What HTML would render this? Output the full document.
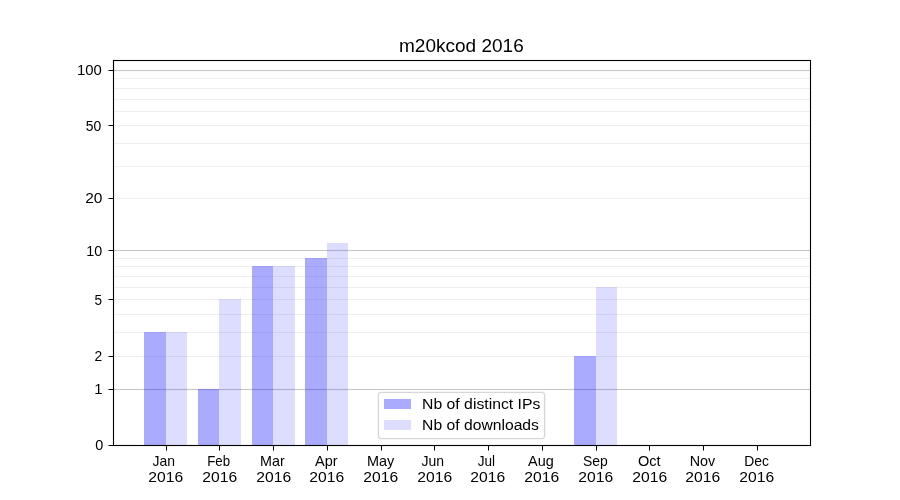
<!DOCTYPE html>
<html><head><meta charset="utf-8"><title>m20kcod 2016</title><style>
html,body{margin:0;padding:0;background:#fff;width:900px;height:500px;overflow:hidden}
svg{display:block;will-change:transform}
text{font-family:"Liberation Sans", sans-serif;fill:#000}
</style></head><body>
<svg width="900" height="500" viewBox="0 0 900 500">
<rect x="0" y="0" width="900" height="500" fill="#fff"/>
<g shape-rendering="crispEdges">
<rect x="113" y="78" width="698" height="1" fill="#efefef"/>
<rect x="113" y="88" width="698" height="1" fill="#efefef"/>
<rect x="113" y="99" width="698" height="1" fill="#efefef"/>
<rect x="113" y="111" width="698" height="1" fill="#efefef"/>
<rect x="113" y="125" width="698" height="1" fill="#efefef"/>
<rect x="113" y="143" width="698" height="1" fill="#efefef"/>
<rect x="113" y="166" width="698" height="1" fill="#efefef"/>
<rect x="113" y="198" width="698" height="1" fill="#efefef"/>
<rect x="113" y="258" width="698" height="1" fill="#efefef"/>
<rect x="113" y="266" width="698" height="1" fill="#efefef"/>
<rect x="113" y="276" width="698" height="1" fill="#efefef"/>
<rect x="113" y="287" width="698" height="1" fill="#efefef"/>
<rect x="113" y="299" width="698" height="1" fill="#efefef"/>
<rect x="113" y="314" width="698" height="1" fill="#efefef"/>
<rect x="113" y="332" width="698" height="1" fill="#efefef"/>
<rect x="113" y="356" width="698" height="1" fill="#efefef"/>
<rect x="113" y="69" width="698" height="3" fill="#fbfbfb"/>
<rect x="113" y="70" width="698" height="1" fill="#c8c8c8"/>
<rect x="113" y="249" width="698" height="3" fill="#fbfbfb"/>
<rect x="113" y="250" width="698" height="1" fill="#c8c8c8"/>
<rect x="113" y="388" width="698" height="3" fill="#fbfbfb"/>
<rect x="113" y="389" width="698" height="1" fill="#c8c8c8"/>
<rect x="144" y="332" width="22" height="113" fill="#0000ff" fill-opacity="0.333"/>
<rect x="198" y="389" width="21" height="56" fill="#0000ff" fill-opacity="0.333"/>
<rect x="252" y="266" width="21" height="179" fill="#0000ff" fill-opacity="0.333"/>
<rect x="305" y="258" width="22" height="187" fill="#0000ff" fill-opacity="0.333"/>
<rect x="574" y="356" width="22" height="89" fill="#0000ff" fill-opacity="0.333"/>
<rect x="166" y="332" width="21" height="113" fill="#0000ff" fill-opacity="0.133"/>
<rect x="219" y="299" width="22" height="146" fill="#0000ff" fill-opacity="0.133"/>
<rect x="273" y="266" width="22" height="179" fill="#0000ff" fill-opacity="0.133"/>
<rect x="327" y="243" width="21" height="202" fill="#0000ff" fill-opacity="0.133"/>
<rect x="596" y="287" width="21" height="158" fill="#0000ff" fill-opacity="0.133"/>
<rect x="112" y="59" width="700" height="1" fill="#000" fill-opacity="0.055"/>
<rect x="112" y="61" width="697" height="1" fill="#000" fill-opacity="0.055"/>
<rect x="114" y="444" width="695" height="1" fill="#000" fill-opacity="0.055"/>
<rect x="112" y="446" width="700" height="1" fill="#000" fill-opacity="0.055"/>
<rect x="112" y="60" width="1" height="386" fill="#000" fill-opacity="0.055"/>
<rect x="114" y="62" width="1" height="382" fill="#000" fill-opacity="0.055"/>
<rect x="809" y="62" width="1" height="382" fill="#000" fill-opacity="0.055"/>
<rect x="811" y="60" width="1" height="386" fill="#000" fill-opacity="0.055"/>
<rect x="113" y="60" width="698" height="1" fill="#000"/>
<rect x="113" y="445" width="698" height="1" fill="#000"/>
<rect x="113" y="60" width="1" height="386" fill="#000"/>
<rect x="810" y="60" width="1" height="386" fill="#000"/>
<rect x="108" y="70" width="1" height="1" fill="#7f7f7f"/>
<rect x="109" y="70" width="4" height="1" fill="#000"/>
<rect x="108" y="125" width="1" height="1" fill="#7f7f7f"/>
<rect x="109" y="125" width="4" height="1" fill="#000"/>
<rect x="108" y="198" width="1" height="1" fill="#7f7f7f"/>
<rect x="109" y="198" width="4" height="1" fill="#000"/>
<rect x="108" y="250" width="1" height="1" fill="#7f7f7f"/>
<rect x="109" y="250" width="4" height="1" fill="#000"/>
<rect x="108" y="299" width="1" height="1" fill="#7f7f7f"/>
<rect x="109" y="299" width="4" height="1" fill="#000"/>
<rect x="108" y="356" width="1" height="1" fill="#7f7f7f"/>
<rect x="109" y="356" width="4" height="1" fill="#000"/>
<rect x="108" y="389" width="1" height="1" fill="#7f7f7f"/>
<rect x="109" y="389" width="4" height="1" fill="#000"/>
<rect x="108" y="445" width="1" height="1" fill="#7f7f7f"/>
<rect x="109" y="445" width="4" height="1" fill="#000"/>
<rect x="166" y="446" width="1" height="4" fill="#000"/>
<rect x="166" y="450" width="1" height="1" fill="#7f7f7f"/>
<rect x="219" y="446" width="1" height="4" fill="#000"/>
<rect x="219" y="450" width="1" height="1" fill="#7f7f7f"/>
<rect x="273" y="446" width="1" height="4" fill="#000"/>
<rect x="273" y="450" width="1" height="1" fill="#7f7f7f"/>
<rect x="327" y="446" width="1" height="4" fill="#000"/>
<rect x="327" y="450" width="1" height="1" fill="#7f7f7f"/>
<rect x="381" y="446" width="1" height="4" fill="#000"/>
<rect x="381" y="450" width="1" height="1" fill="#7f7f7f"/>
<rect x="434" y="446" width="1" height="4" fill="#000"/>
<rect x="434" y="450" width="1" height="1" fill="#7f7f7f"/>
<rect x="488" y="446" width="1" height="4" fill="#000"/>
<rect x="488" y="450" width="1" height="1" fill="#7f7f7f"/>
<rect x="542" y="446" width="1" height="4" fill="#000"/>
<rect x="542" y="450" width="1" height="1" fill="#7f7f7f"/>
<rect x="596" y="446" width="1" height="4" fill="#000"/>
<rect x="596" y="450" width="1" height="1" fill="#7f7f7f"/>
<rect x="649" y="446" width="1" height="4" fill="#000"/>
<rect x="649" y="450" width="1" height="1" fill="#7f7f7f"/>
<rect x="703" y="446" width="1" height="4" fill="#000"/>
<rect x="703" y="450" width="1" height="1" fill="#7f7f7f"/>
<rect x="757" y="446" width="1" height="4" fill="#000"/>
<rect x="757" y="450" width="1" height="1" fill="#7f7f7f"/>
</g>
<rect x="378.5" y="392.5" width="166" height="46" rx="2.8" ry="2.8" fill="none" stroke="#f7f7f7" stroke-width="3"/>
<rect x="378.5" y="392.5" width="166" height="46" rx="2.8" ry="2.8" fill="#fff" fill-opacity="0.8" stroke="#d6d6d6" stroke-width="1.1"/>
<g shape-rendering="crispEdges">
<rect x="384" y="399" width="27" height="10" fill="#0000ff" fill-opacity="0.333"/>
<rect x="384" y="420" width="27" height="10" fill="#0000ff" fill-opacity="0.133"/>
</g>
<text transform="translate(399.035 51.700) scale(1.0813 1.0000)" font-size="17.60">m20kcod 2016</text>
<text transform="translate(77.042 74.850) scale(1.0475 1.0000)" font-size="14.20">100</text>
<text transform="translate(85.676 130.958) scale(0.9802 1.0000)" font-size="14.20">50</text>
<text transform="translate(85.254 202.994) scale(1.0919 1.0000)" font-size="14.20">20</text>
<text transform="translate(86.287 255.798) scale(1.0083 1.0000)" font-size="14.20">10</text>
<text transform="translate(94.500 304.928) scale(0.9565 1.0000)" font-size="14.20">5</text>
<text transform="translate(94.377 361.071) scale(0.9738 1.0000)" font-size="14.20">2</text>
<text transform="translate(94.299 393.573) scale(1.0480 1.0000)" font-size="14.20">1</text>
<text transform="translate(95.334 449.962) scale(1.0175 1.0000)" font-size="14.20">0</text>
<text transform="translate(152.536 465.832) scale(0.9819 1.0000)" font-size="14.20">Jan</text>
<text transform="translate(148.339 481.903) scale(1.1034 1.0000)" font-size="14.20">2016</text>
<text transform="translate(207.270 465.832) scale(0.9352 1.0000)" font-size="14.20">Feb</text>
<text transform="translate(202.339 481.903) scale(1.1034 1.0000)" font-size="14.20">2016</text>
<text transform="translate(260.121 465.832) scale(1.0095 1.0000)" font-size="14.20">Mar</text>
<text transform="translate(256.339 481.903) scale(1.1034 1.0000)" font-size="14.20">2016</text>
<text transform="translate(315.010 465.832) scale(1.0200 1.0000)" font-size="14.20">Apr</text>
<text transform="translate(309.339 481.903) scale(1.1034 1.0000)" font-size="14.20">2016</text>
<text transform="translate(366.879 465.832) scale(1.0170 1.0000)" font-size="14.20">May</text>
<text transform="translate(363.339 481.903) scale(1.1034 1.0000)" font-size="14.20">2016</text>
<text transform="translate(421.527 465.832) scale(0.9869 1.0000)" font-size="14.20">Jun</text>
<text transform="translate(417.339 481.903) scale(1.1034 1.0000)" font-size="14.20">2016</text>
<text transform="translate(477.679 465.832) scale(0.9572 1.0000)" font-size="14.20">Jul</text>
<text transform="translate(470.339 481.903) scale(1.1034 1.0000)" font-size="14.20">2016</text>
<text transform="translate(528.087 465.832) scale(1.0174 1.0000)" font-size="14.20">Aug</text>
<text transform="translate(524.339 481.903) scale(1.1034 1.0000)" font-size="14.20">2016</text>
<text transform="translate(583.009 465.832) scale(0.9806 1.0000)" font-size="14.20">Sep</text>
<text transform="translate(578.339 481.903) scale(1.1034 1.0000)" font-size="14.20">2016</text>
<text transform="translate(637.962 465.832) scale(1.0240 1.0000)" font-size="14.20">Oct</text>
<text transform="translate(632.339 481.903) scale(1.1034 1.0000)" font-size="14.20">2016</text>
<text transform="translate(689.685 465.832) scale(1.0112 1.0000)" font-size="14.20">Nov</text>
<text transform="translate(685.339 481.903) scale(1.1034 1.0000)" font-size="14.20">2016</text>
<text transform="translate(744.330 465.832) scale(0.9778 1.0000)" font-size="14.20">Dec</text>
<text transform="translate(739.339 481.903) scale(1.1034 1.0000)" font-size="14.20">2016</text>
<text transform="translate(422.055 408.821) scale(1.1106 1.0000)" font-size="14.20">Nb of distinct IPs</text>
<text transform="translate(422.103 429.847) scale(1.1055 1.0000)" font-size="14.20">Nb of downloads</text>
</svg></body></html>
